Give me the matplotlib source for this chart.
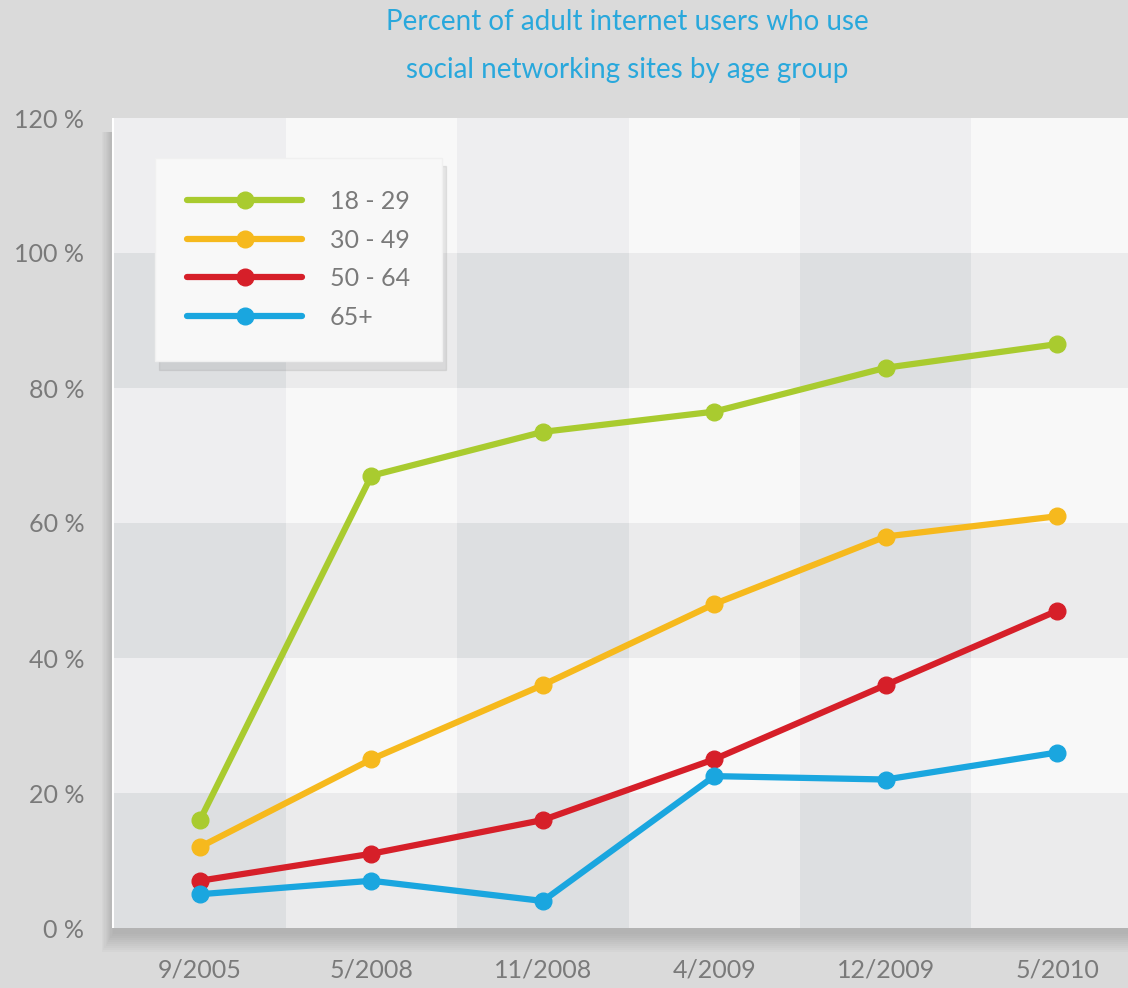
import numpy as np
import matplotlib.pyplot as plt
from matplotlib.patches import Rectangle

# data
dates = ["9/2005", "5/2008", "11/2008", "4/2009", "12/2009", "5/2010"]
age_groups = ["18 - 29", "30 - 49", "50 - 64", "65+"]
pct_18_29 = [16, 67, 73.5, 76.5, 83, 86.5]
pct_30_49 = [12, 25, 36, 48, 58, 61]
pct_50_64 = [7, 11, 16, 25, 36, 47]
pct_65_plus = [5, 7, 4, 22.5, 22, 26]
y_ticks = [0, 20, 40, 60, 80, 100, 120]

colors = ["#a9cb2f", "#f6b91d", "#d61f29", "#1aa6df"]
series = [pct_18_29, pct_30_49, pct_50_64, pct_65_plus]

plt.rcParams['font.family'] = ['Lato', 'DejaVu Sans']

fig = plt.figure(figsize=(11.28, 9.88), dpi=100, facecolor="#dadada")
ax = fig.add_axes([112 / 1128, 60 / 988, 1016 / 1128, 810 / 988])
ax.set_zorder(2)

# soft shadow behind the plot area (mostly below and to the left)
for i in range(10):
    off = 20 - 2 * i
    fig.patches.append(Rectangle(((112 - off * 0.6 + 2) / 1128, (60 - off - 4) / 988),
                                 1.2, (800 + off) / 988,
                                 transform=fig.transFigure, facecolor="#666666",
                                 alpha=0.035, edgecolor="none", zorder=0))

x = np.arange(len(dates))
ax.set_xlim(-0.513, 5.413)
ax.set_ylim(0, 120)

# checkerboard background
cell_cols = {(True, True): "#dddfe1", (True, False): "#ebebec",
             (False, True): "#eeeef0", (False, False): "#f8f8f8"}
for r in range(6):
    dark_row = (r % 2 == 0)
    for c in range(7):
        col = cell_cols[(dark_row, c % 2 == 0)]
        ax.add_patch(Rectangle((c - 0.5, r * 20), 1, 20, facecolor=col,
                               edgecolor="none", zorder=0))

for vals, col, lab in zip(series, colors, age_groups):
    ax.plot(x, vals, color=col, lw=4.5, marker="o", ms=12, label=lab,
            solid_capstyle="round", zorder=3)

for s in ax.spines.values():
    s.set_visible(False)
ax.set_xticks(x)
ax.set_xticklabels(dates, fontsize=18, color="#7a7a7a")
ax.set_yticks(y_ticks)
ax.set_yticklabels([f"{v} %" for v in y_ticks], fontsize=18, color="#7a7a7a")
ax.tick_params(axis="both", length=0)
ax.tick_params(axis="x", pad=22)
ax.tick_params(axis="y", pad=20)

leg = ax.legend(loc="upper left", bbox_to_anchor=(0.042, 0.951), fontsize=18,
                frameon=True, fancybox=False, handlelength=4.6, handletextpad=1.1,
                labelspacing=0.62, borderpad=1.3, borderaxespad=0,
                shadow={"color": "#777777", "alpha": 0.15, "ox": 3, "oy": -6})
leg.get_frame().set_facecolor("#f8f8f8")
leg.get_frame().set_edgecolor("#f0f0f0")
leg.get_frame().set_alpha(1)
for t in leg.get_texts():
    t.set_color("#7a7a7a")

fig.text(627 / 1128, 1 - 22 / 988, "Percent of adult internet users who use",
         ha="center", va="center", fontsize=20, color="#29a8dc")
fig.text(627 / 1128, 1 - 70 / 988, "social networking sites by age group",
         ha="center", va="center", fontsize=20, color="#29a8dc")

fig.savefig("out.png", dpi=100, facecolor=fig.get_facecolor())
